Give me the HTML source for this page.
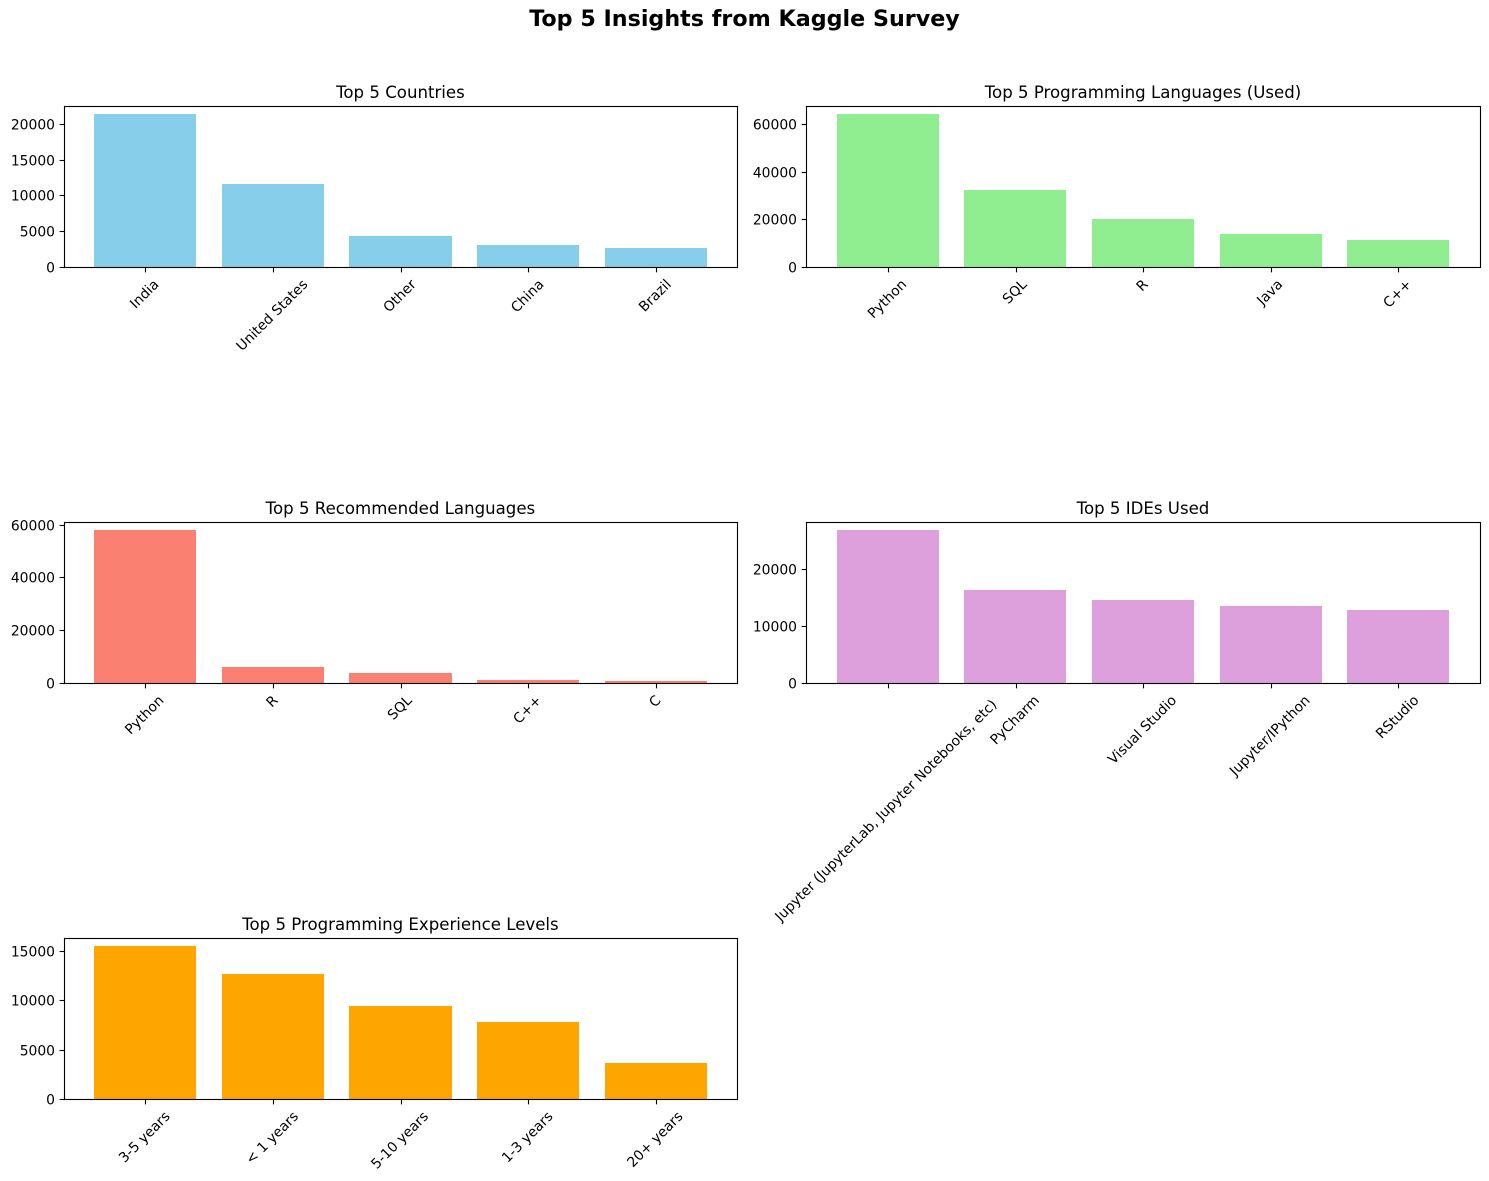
<!DOCTYPE html>
<html lang="en">
<head>
<meta charset="utf-8">
<title>Top 5 Insights from Kaggle Survey</title>
<style>
  html, body { margin: 0; padding: 0; background: #ffffff; }
  body { width: 1489px; height: 1181px; overflow: hidden; }
  svg { display: block; }
  text { font-family: "DejaVu Sans", "Liberation Sans", sans-serif; fill: #000000; }
</style>
</head>
<body>
<svg id="figure" xmlns="http://www.w3.org/2000/svg" width="1489" height="1181" viewBox="0 0 1489 1181">
  <text id="suptitle" x="744.5" y="26" text-anchor="middle" font-size="22.22" font-weight="700">Top 5 Insights from Kaggle Survey</text>
</svg>
<script>
// Data: categories, series values and y tick labels for each panel
const countryCategories = ["India", "United States", "Other", "China", "Brazil"];
const countryValues = [21440, 11677, 4405, 3146, 2727];
const countryTicks = [0, 5000, 10000, 15000, 20000];

const languageCategories = ["Python", "SQL", "R", "Java", "C++"];
const languageValues = [64300, 32500, 20340, 14050, 11530];
const languageTicks = [0, 20000, 40000, 60000];

const recommendedCategories = ["Python", "R", "SQL", "C++", "C"];
const recommendedValues = [58100, 6250, 3980, 1330, 950];
const recommendedTicks = [0, 20000, 40000, 60000];

const ideCategories = ["Jupyter (JupyterLab, Jupyter Notebooks, etc)", "PyCharm", "Visual Studio", "Jupyter/IPython", "RStudio"];
const ideValues = [26900, 16400, 14650, 13600, 12900];
const ideTicks = [0, 10000, 20000];

const experienceCategories = ["3-5 years", "< 1 years", "5-10 years", "1-3 years", "20+ years"];
const experienceValues = [15500, 12690, 9450, 7835, 3690];
const experienceTicks = [0, 5000, 10000, 15000];

const NS = "http://www.w3.org/2000/svg";
const figure = document.getElementById("figure");

function make(tag, parent, props) {
  const el = document.createElementNS(NS, tag);
  for (const k in props) el.setAttribute(k, props[k]);
  parent.appendChild(el);
  return el;
}

function drawPanel(slug, title, categories, values, ticks, color, box) {
  const group = make("g", figure, {});
  
  

  // Axis functions: matplotlib-style limits for a bar chart
  const barWidth = 0.8;
  const n = categories.length;
  const xMin = -barWidth / 2 - 0.05 * (n - 1 + barWidth);
  const xMax = n - 1 + barWidth / 2 + 0.05 * (n - 1 + barWidth);
  const yMax = Math.max(...values) * 1.05;
  const xScale = v => box.plotLeft + (v - xMin) / (xMax - xMin) * (box.plotRight - box.plotLeft);
  const yScale = v => box.bottom - v / yMax * (box.bottom - box.top);

  // Bars
  values.forEach((value, i) => {
    const x0 = Math.round(xScale(i - barWidth / 2));
    const x1 = Math.round(xScale(i + barWidth / 2));
    const y0 = Math.round(yScale(value));
    const bar = make("rect", group, {
      x: x0, y: y0, width: x1 - x0, height: Math.max(0, box.bottom - y0),
      fill: color
    });
    
    
  });

  // Spines
  const frame = make("rect", group, {
    x: box.left, y: box.top, width: box.right - box.left, height: box.bottom - box.top,
    fill: "none", stroke: "#000000", "stroke-width": 1.11
  });
  
  

  // Y ticks and labels
  ticks.forEach(tick => {
    const y = Math.round(yScale(tick) - 0.5) + 0.5;
    const yTick = make("line", group, {
      x1: box.left - 4.86, x2: box.left, y1: y, y2: y,
      stroke: "#000000", "stroke-width": 1.11
    });
    
    
    const yLabel = make("text", group, {
      x: box.left - 9.5, y: y + 5, "text-anchor": "end", "font-size": 13.89
    });
    yLabel.textContent = String(tick);
    
    
  });

  // X ticks and rotated labels
  categories.forEach((category, i) => {
    const x = Math.floor(xScale(i) + 0.6) + 0.5;
    const xTick = make("line", group, {
      x1: x, x2: x, y1: box.bottom, y2: box.bottom + 4.86,
      stroke: "#000000", "stroke-width": 1.11
    });
    
    
    const xLabel = make("text", group, {
      "text-anchor": "middle", "font-size": 13.89
    });
    xLabel.textContent = category;
    
    
    const w = xLabel.getComputedTextLength();
    const h = 13.89 * 1.16;
    const half = (w + h) * Math.SQRT1_2 / 2;
    const cy = box.bottom + 9.5 + half;
    const extra = Math.max(0, w - 120);
    const alongText = -extra * 0.02;
    const acrossText = 3.5 + extra * 0.011;
    xLabel.setAttribute("transform", "translate(" + xScale(i) + " " + cy + ") rotate(-45) translate(" + alongText + " " + acrossText + ")");
  });

  // Panel title
  const heading = make("text", group, {
    x: (box.plotLeft + box.plotRight) / 2, y: box.top - 8.3,
    "text-anchor": "middle", "font-size": 16.6
  });
  heading.textContent = title;
  
  
}

const leftColumn = { left: 64.5, right: 737.5, plotLeft: 63.454, plotRight: 737.446 };
const rightColumn = { left: 806.5, right: 1480.5, plotLeft: 806.268, plotRight: 1479.73 };
const rowOne = { top: 106.5, bottom: 267.5 };
const rowTwo = { top: 522.5, bottom: 683.5 };
const rowThree = { top: 938.5, bottom: 1099.5 };

drawPanel("countries", "Top 5 Countries", countryCategories, countryValues, countryTicks, "#87CEEB", { ...leftColumn, ...rowOne });
drawPanel("languages", "Top 5 Programming Languages (Used)", languageCategories, languageValues, languageTicks, "#90EE90", { ...rightColumn, ...rowOne });
drawPanel("recommended", "Top 5 Recommended Languages", recommendedCategories, recommendedValues, recommendedTicks, "#FA8072", { ...leftColumn, ...rowTwo });
drawPanel("ides", "Top 5 IDEs Used", ideCategories, ideValues, ideTicks, "#DDA0DD", { ...rightColumn, ...rowTwo });
drawPanel("experience", "Top 5 Programming Experience Levels", experienceCategories, experienceValues, experienceTicks, "#FFA500", { ...leftColumn, ...rowThree });
</script>
</body>
</html>
